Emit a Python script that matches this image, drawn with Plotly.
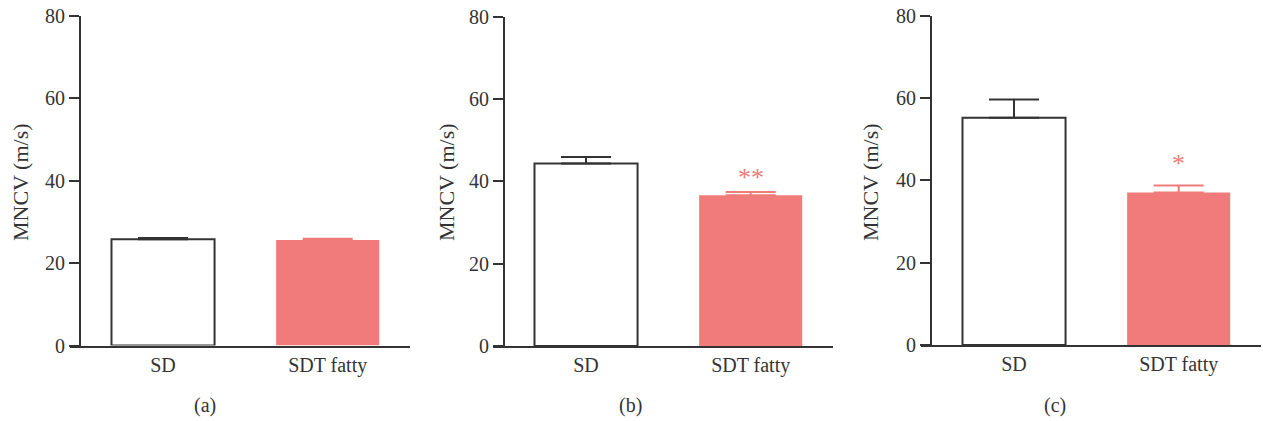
import plotly.graph_objects as go

W, H = 1263, 421

categories = ["SD", "SDT fatty"]
panel_labels = ["(a)", "(b)", "(c)"]
mncv_mean = [[25.8, 25.6], [44.3, 36.6], [55.2, 37.0]]
mncv_sem = [[0.3, 0.3], [1.6, 0.8], [4.4, 1.7]]
significance = [["", ""], ["", "**"], ["", "*"]]
y_ticks = [0, 20, 40, 60, 80]

DARK = "#333333"
SALMON = "#F07B7A"
FONT = "Liberation Serif"
bar_fill = ["white", SALMON]
bar_line = [DARK, SALMON]
bar_line_w = [2, 0]
err_color = [DARK, SALMON]
star_gap_px = [0, 17, 25]


def px(x):
    return x / W


def py(y):
    return 1 - y / H


panels = [
    dict(xd=(70, 410), yax=80, yd=(16, 345.5), tx=20, lx=205),
    dict(xd=(493, 833), yax=504, yd=(16.5, 346), tx=446, lx=630),
    dict(xd=(921, 1261), yax=931, yd=(15.5, 345), tx=870, lx=1055),
]

fig = go.Figure()
layout = dict(
    width=W, height=H,
    margin=dict(l=0, r=0, t=0, b=0, autoexpand=False),
    paper_bgcolor="white", plot_bgcolor="white",
    showlegend=False,
    font=dict(family=FONT, color=DARK, size=20),
    barmode="overlay",
)
annotations = []

for i, p in enumerate(panels):
    n = i + 1
    xa = "x" if n == 1 else f"x{n}"
    ya = "y" if n == 1 else f"y{n}"
    xk = "xaxis" if n == 1 else f"xaxis{n}"
    yk = "yaxis" if n == 1 else f"yaxis{n}"

    for j in range(2):
        fig.add_trace(go.Bar(
            x=[j], y=[mncv_mean[i][j]], width=0.626,
            marker=dict(color=bar_fill[j], line=dict(color=bar_line[j], width=bar_line_w[j])),
            error_y=dict(type="data", symmetric=False, array=[mncv_sem[i][j]],
                         arrayminus=[0], color=err_color[j], thickness=2, width=25),
            xaxis=xa, yaxis=ya, hoverinfo="skip",
        ))

    layout[xk] = dict(
        domain=[px(p["xd"][0]), px(p["xd"][1])], anchor=ya,
        range=[-0.565, 1.5], tickmode="array", tickvals=[0, 1], ticktext=categories,
        showline=True, linecolor=DARK, linewidth=2, ticks="", showgrid=False,
        zeroline=False, tickfont=dict(size=20, family=FONT, color=DARK),
        fixedrange=True, automargin=False,
    )
    layout[yk] = dict(
        domain=[py(p["yd"][1]), py(p["yd"][0])], anchor="free", position=px(p["yax"]),
        range=[0, 80], tickmode="array", tickvals=y_ticks,
        showline=True, linecolor=DARK, linewidth=2, ticks="outside", ticklen=10,
        tickwidth=2, tickcolor=DARK, showgrid=False, zeroline=False,
        tickfont=dict(size=20, family=FONT, color=DARK), fixedrange=True,
        automargin=False, ticklabeloverflow="allow",
    )

    annotations.append(dict(
        text="MNCV (m/s)", textangle=-90, xref="paper", yref="paper",
        x=px(p["tx"]), y=py(182), xanchor="center", yanchor="middle",
        showarrow=False, font=dict(size=22, family=FONT, color=DARK),
    ))
    annotations.append(dict(
        text=panel_labels[i], xref="paper", yref="paper",
        x=px(p["lx"]), y=py(405), xanchor="center", yanchor="middle",
        showarrow=False, font=dict(size=20, family=FONT, color=DARK),
    ))
    for j in range(2):
        if significance[i][j]:
            annotations.append(dict(
                text=significance[i][j], xref=xa, yref=ya,
                x=j, y=mncv_mean[i][j] + mncv_sem[i][j],
                xanchor="center", yanchor="middle", yshift=star_gap_px[i] - 3,
                showarrow=False, font=dict(size=26, family=FONT, color=SALMON),
            ))

layout["annotations"] = annotations
fig.update_layout(**layout)
fig.write_html(
    "out.html",
    config={"displayModeBar": False, "staticPlot": True},
    post_script="document.body.style.margin='0';document.body.style.overflow='hidden';",
)
